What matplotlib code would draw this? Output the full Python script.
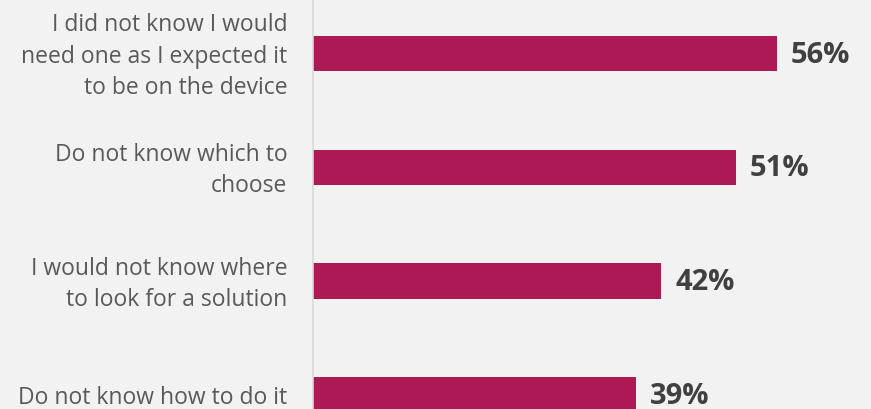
import matplotlib.pyplot as plt

# Dados do gráfico
categorias = [
    'I did not know I would\nneed one as I expected it\nto be on the device',
    'Do not know which to\nchoose',
    'I would not know where\nto look for a solution',
    'Do not know how to do it',
]
valores = [56, 51, 42, 39]

cor_barra = '#AD1952'
cor_fundo = '#F2F2F2'

fig = plt.figure(figsize=(8.71, 4.09), dpi=100, facecolor=cor_fundo)
ax = fig.add_axes([313 / 871, 0, 1 - 313 / 871, 1], facecolor=cor_fundo)

posicoes = list(range(len(valores)))
ax.barh(posicoes, valores, height=0.31, color=cor_barra, zorder=2)

ax.set_xlim(0, (871 - 313) / 8.286)
ax.set_ylim((409 - 53.5) / 113.7, -53.5 / 113.7)

# Rótulos de valor
for p, v in zip(posicoes, valores):
    ax.text(v + 1.7, p + 0.015, f'{v}%', va='center', ha='left', fontsize=21,
            fontweight='bold', color='#404040', family='Open Sans')

# Rótulos das categorias
for p, c in zip(posicoes, categorias):
    ax.text(-3.1, p + 0.03, c, va='center', ha='right', fontsize=16.5,
            color='#595959', family='Open Sans', linespacing=1.42,
            transform=ax.transData, clip_on=False)

ax.set_xticks([])
ax.set_yticks([])
for lado in ['top', 'right', 'bottom']:
    ax.spines[lado].set_visible(False)
ax.spines['left'].set_color('#D9D9D9')
ax.spines['left'].set_linewidth(1.2)

fig.savefig('out.png', dpi=100, facecolor=cor_fundo)
